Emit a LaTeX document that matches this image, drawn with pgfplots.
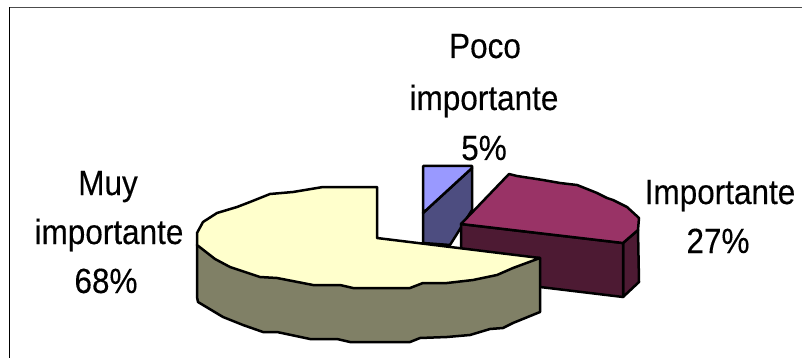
\documentclass[border=0pt]{standalone}
\usepackage{pgfplots}
\pgfplotsset{compat=1.18}
\usepackage{fontspec}
\setmainfont{Liberation Sans}
\newfontfamily\labelfont[FakeBold=0.25]{Liberation Sans}
\definecolor{pocoTop}{HTML}{9999FF}
\definecolor{pocoSide}{HTML}{4D4D80}
\definecolor{impTop}{HTML}{993366}
\definecolor{impSide}{HTML}{4D1A33}
\definecolor{muyTop}{HTML}{FFFFCC}
\definecolor{muySide}{HTML}{808066}
\newcommand{\lbl}[1]{\labelfont\fontsize{35}{35}\selectfont\scalebox{.9}[1]{#1}}
\tikzset{slicelabel/.style={anchor=base, inner sep=0pt, text=black}}
\begin{document}
\begin{tikzpicture}
\path[use as bounding box] (0,0) rectangle (802pt,358pt);
\begin{axis}[
  at={(0,0)}, anchor=south west,
  scale only axis, width=802pt, height=358pt,
  xmin=0, xmax=802, ymin=0, ymax=358, y dir=reverse,
  hide axis, clip=true,
  every axis plot/.append style={no markers, line width=2.5pt, line join=round, draw=black},
]
% chart area border
\addplot[draw=black!70, line width=1.6pt] coordinates {(9,7.5) (802,7.5)};
\addplot[line width=1.8pt] coordinates {(9.5,7.5) (9.5,358)};

% Poco importante: exploded slice
\addplot[fill=pocoSide] coordinates {(423,213) (472,168) (472,210) (450,245) (423,243)} -- cycle;
\addplot[fill=pocoTop] coordinates {(423,166) (472,166) (472,168) (423,213)} -- cycle;

% Importante: side walls, then top
\addplot[fill=impSide] coordinates {(623,243) (638,230) (639,282) (623,297)} -- cycle;
\addplot[fill=impSide] coordinates {(461,224) (623,243) (623,297) (540,287) (461,272)} -- cycle;
\addplot[fill=impTop] coordinates {(461,224) (509,174) (517,176) (543,180) (560,183) (577,185)
  (597,193) (607,198) (613,200) (627,207) (639,218) (638,230) (623,243)} -- cycle;

% Muy importante: side wall, then top
\addplot[fill=muySide] coordinates {(197,245) (197,297) (198,302) (223,317) (243,325) (263,332)
  (277,332) (310,339) (337,339) (350,342) (410,342) (420,338) (447,337) (470,335) (490,329)
  (503,328) (513,323) (540,312) (540,258)} -- cycle;
\addplot[fill=muyTop] coordinates {(377,238) (377,187) (323,187) (293,192) (270,194) (250,202)
  (237,207) (217,213) (203,222) (197,233) (197,245) (215,259) (230,267) (260,277) (277,278)
  (313,285) (340,285) (353,288) (410,288) (423,283) (447,283) (473,280) (497,275) (513,268)
  (540,258)} -- cycle;

% Slice labels
\node[slicelabel] at (axis cs:485,58) {\lbl{Poco}};
\node[slicelabel] at (axis cs:484,110) {\lbl{importante}};
\node[slicelabel] at (axis cs:484,160) {\lbl{5\%}};
\node[slicelabel] at (axis cs:720,204) {\lbl{Importante}};
\node[slicelabel] at (axis cs:718,253) {\lbl{27\%}};
\node[slicelabel] at (axis cs:108,195) {\lbl{Muy}};
\node[slicelabel] at (axis cs:109,244) {\lbl{importante}};
\node[slicelabel] at (axis cs:106,293) {\lbl{68\%}};
\end{axis}
\end{tikzpicture}
\end{document}
